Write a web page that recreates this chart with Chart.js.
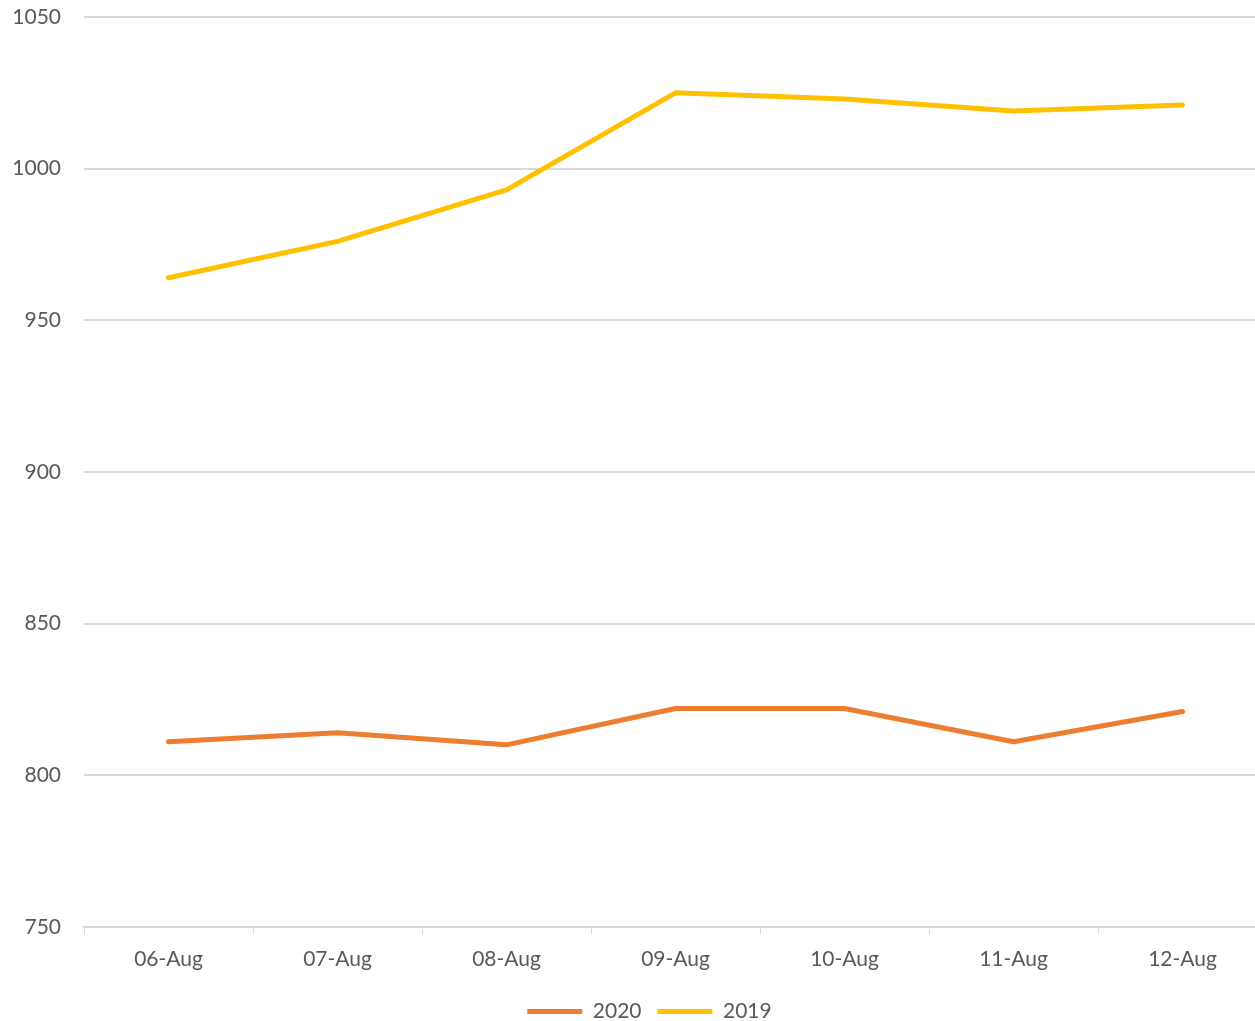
<!DOCTYPE html>
<html>
<head>
<meta charset="utf-8">
<script src="https://cdn.jsdelivr.net/npm/chart.js@4"></script>
<style>
  html, body { margin: 0; padding: 0; background: #fff; overflow: hidden; }
  #wrap { width: 1300px; height: 1021px; position: relative; }
</style>
</head>
<body>
<div id="wrap"><canvas id="myChart"></canvas></div>
<script>
// data
const days = ["06-Aug", "07-Aug", "08-Aug", "09-Aug", "10-Aug", "11-Aug", "12-Aug"];
const values2020 = [811, 814, 810, 822, 822, 811, 821];
const values2019 = [964, 976, 993, 1025, 1023, 1019, 1021];

const textColor = "#595959";
const gridColor = "#d9d9d9";
const font = { family: "Lato", size: 21 };

function makeLine(label, color, data) {
    return {
        label: label,
        data: data,
        borderColor: color,
        backgroundColor: color,
        borderWidth: 5,
        pointRadius: 0,
        tension: 0,
        borderCapStyle: "round",
        borderJoinStyle: "round"
    }
}

// legend in the original sits a bit right of the plot's centre
const shiftLegend = {
    id: "shiftLegend",
    afterLayout(chart) {
        chart.legend.left += 16;
        chart.legend.right += 16;
    }
};

const ctx = document.getElementById("myChart");

new Chart(ctx, {
    type: "line",
    data: {
        labels: days,
        datasets: [makeLine("2020", "#ED7D31", values2020), makeLine("2019", "#FFC000", values2019)]
    },
    plugins: [shiftLegend],
    options: {
        responsive: true,
        maintainAspectRatio: false,
        animation: false,
        layout: { padding: { top: 17, right: 33, left: 0, bottom: -11 } },
        plugins: {
            tooltip: { enabled: false },
            legend: {
                position: "bottom",
                labels: {
                    usePointStyle: true,
                    pointStyle: "line",
                    pointStyleWidth: 55,
                    padding: 16,
                    color: textColor,
                    font: font
                }
            }
        },
        scales: {
            x: {
                offset: true,
                grid: { drawOnChartArea: false, drawTicks: true, tickLength: 7, color: gridColor, offset: true },
                border: { color: gridColor, width: 2 },
                ticks: { color: textColor, font: font, padding: 13, maxRotation: 0 }
            },
            y: {
                min: 750,
                max: 1050,
                afterFit: function (scale) {
                    scale.width = 84;
                    scale.paddingTop = 0;
                    scale.paddingBottom = 0;
                },
                grid: { color: gridColor, lineWidth: 2, drawTicks: false },
                border: { display: false },
                ticks: {
                    stepSize: 50,
                    color: textColor,
                    font: font,
                    padding: 23,
                    callback: function (v) { return String(v); }
                }
            }
        }
    }
})
</script>
</body>
</html>
